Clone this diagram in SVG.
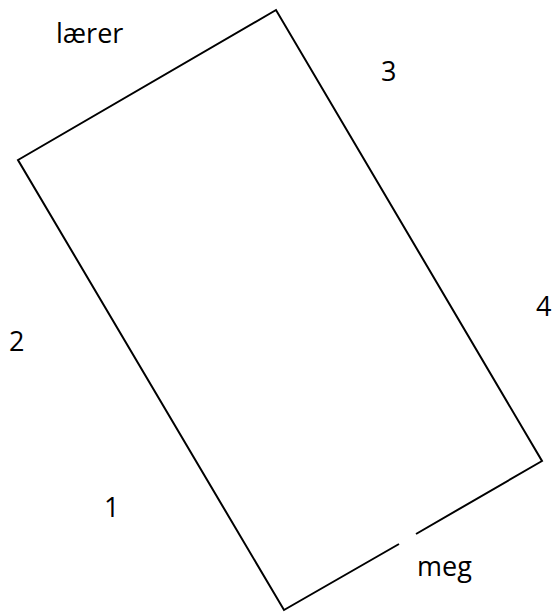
<svg xmlns="http://www.w3.org/2000/svg" width="558" height="613" viewBox="0 0 558 613">
<style>
.lbl{font-family:"Open Sans","Liberation Sans",sans-serif;font-size:27px;fill:#000}
.edge{fill:none;stroke:#000;stroke-width:2;stroke-linejoin:miter}
</style>
<rect width="558" height="613" fill="#fff"/>
<g id="connectors">
<polyline class="edge" points="399,544 284,610 18,160 276,10 542,461 416,534"/>
</g>
<g id="labels">
<text id="laerer" class="lbl" x="56" y="43">lærer</text>
<text id="n3" class="lbl" x="381" y="81">3</text>
<text id="n4" class="lbl" x="536" y="316">4</text>
<text id="n2" class="lbl" x="9" y="351">2</text>
<text id="n1" class="lbl" x="104" y="517">1</text>
<text id="meg" class="lbl" x="417" y="576">meg</text>
</g>
</svg>
